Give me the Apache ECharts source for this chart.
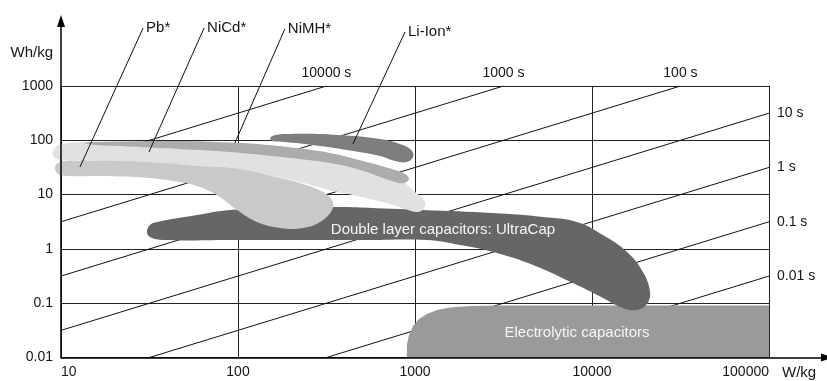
<!DOCTYPE html>
<html>
<head>
<meta charset="utf-8">
<script src="https://cdn.jsdelivr.net/npm/echarts@6/dist/echarts.min.js"></script>
<style>
html,body{margin:0;padding:0;background:#fff;}
#chart{width:827px;height:381px;}
</style>
</head>
<body>
<div id="chart"></div>
<script>
// Ragone plot: specific energy (Wh/kg) against specific power (W/kg)

const xTickLabels = ['10', '100', '1000', '10000', '100000'];
const yTickLabels = ['0.01', '0.1', '1', '10', '100', '1000'];

// Constant discharge-time lines, start and end points as [W/kg, Wh/kg]
const timeLabels = ['10000 s', '1000 s', '100 s', '10 s', '1 s', '0.1 s', '0.01 s', ''];
const timeStart = [[10, 31.6], [10, 3.16], [10, 0.316], [10, 0.0316], [31.6, 0.01], [316, 0.01], [3160, 0.01], [31600, 0.01]];
const timeEnd = [[316, 1000], [3160, 1000], [31600, 1000], [100000, 316], [100000, 31.6], [100000, 3.16], [100000, 0.316], [100000, 0.0316]];

// Technology regions, outline points as [W/kg, Wh/kg]
const electrolyticOutline = [[900, 0.01], [900, 0.017], [925, 0.026], [975, 0.038], [1053, 0.051], [1169, 0.063], [1331, 0.075], [1577, 0.083], [2046, 0.089], [3020, 0.091], [100000, 0.091], [100000, 0.01]];
const ultraCapOutline = [[30.6, 2.05], [31.8, 2.75], [34.9, 3.13], [58.7, 4.21], [90, 5.2], [173, 5.66], [362, 5.91], [489, 5.8], [1109, 5.2], [2760, 4.58], [5290, 3.87], [8230, 3.13], [11530, 1.8], [15780, 0.877], [19410, 0.376], [21280, 0.161], [20460, 0.097], [17950, 0.075], [14960, 0.0816], [11530, 0.125], [8230, 0.216], [4645, 0.505], [2760, 0.877], [1795, 1.18], [1169, 1.46], [508, 1.46], [224, 1.46], [90, 1.46], [37.7, 1.46], [31.8, 1.66]];
const niCdOutline = [[9.0, 60.9], [9.5, 78.5], [10.5, 87.3], [14.6, 93], [31.8, 91], [90, 75.3], [197, 58.4], [470, 36.6], [822, 18.6], [1000, 11.2], [1125, 7.96], [1138, 5.91], [1040, 4.78], [879, 5.43], [722, 6.71], [470, 9.4], [344, 11.6], [224, 17.1], [117, 26.1], [61, 33.7], [31.8, 38.2], [16.6, 41.6], [9.9, 43.4], [9.13, 49.3]];
const pbOutline = [[9.25, 30.9], [9.9, 39.8], [12.8, 41.6], [21.5, 41.6], [37.7, 38.2], [61, 33.7], [102.6, 29.6], [173, 20.2], [233, 15.7], [302, 11.2], [340, 7.96], [340, 5.2], [291, 3.13], [233, 2.43], [173, 2.43], [128, 3.13], [98.7, 5.2], [76, 9.8], [58.7, 14.4], [50.2, 16.4], [31.8, 20.2], [16.6, 22.0], [9.9, 23.0]];
const niMHOutline = [[13.7, 89.2], [21.5, 95], [47, 97], [90, 91], [138, 83.7], [215, 72.2], [331, 58.4], [508, 41.6], [771, 28.4], [879, 23.9], [925, 19.4], [867, 16.4], [771, 17.1], [470, 29.6], [331, 38.2], [197, 47.2], [90, 60.9], [47, 69.2], [24.5, 76.9], [15.6, 81.9]];
const liIonOutline = [[152, 110], [162, 125], [197, 130.6], [331, 128], [634, 106], [855, 81.9], [962, 63.5], [975, 49.3], [901, 39.8], [771, 41.6], [634, 51.4], [413, 66.3], [265, 81.9], [184, 93], [156, 97]];

// Battery name call-outs: leader from inside the region to the label
const batteryNames = ['Pb*', 'NiCd*', 'NiMH*', 'Li-Ion*'];
const pointerFrom = [[12.8, 32.2], [31.4, 60.9], [96, 89.2], [446, 85.5]];
const pointerTo = [[29.1, 11700], [64.3, 11700], [184, 11220], [878, 9875]];

const X_MIN = 10, X_MAX = 100000, Y_MIN = 0.01, Y_MAX = 1000;
const NUM_FONT = "'Liberation Sans Narrow', 'Liberation Sans', Arial, sans-serif";
const TEXT_FONT = "'Liberation Sans', Arial, sans-serif";
const INK = '#141414';

function regionSeries(outline, color, z, smooth, label, labelAt) {
  return {
    type: 'custom',
    coordinateSystem: 'cartesian2d',
    xAxisIndex: 0,
    yAxisIndex: 0,
    data: outline,
    encode: { x: 0, y: 1 },
    clip: false,
    silent: true,
    z: z,
    renderItem: function (params, api) {
      if (params.dataIndex !== 0) return null;
      const pts = outline.map(function (p) { return api.coord(p); });
      const children = [{
        type: 'polygon',
        shape: { points: pts, smooth: smooth },
        style: { fill: color, stroke: null }
      }];
      if (label) {
        const c = api.coord(labelAt);
        children.push({
          type: 'text', x: c[0], y: c[1],
          style: { text: label, fill: '#f6f6f6', fontSize: 15, fontFamily: TEXT_FONT, align: 'center', verticalAlign: 'middle' }
        });
      }
      return { type: 'group', children: children };
    }
  };
}

const timeSeries = timeLabels.map(function (t, i) {
  const atTop = timeEnd[i][1] >= Y_MAX;
  return {
    type: 'line',
    xAxisIndex: 0, yAxisIndex: 0,
    data: [timeStart[i], {
      value: timeEnd[i],
      label: {
        show: t !== '', formatter: t,
        position: atTop ? 'top' : 'right',
        distance: atTop ? 6 : 8
      }
    }],
    symbol: 'circle', symbolSize: 0, showSymbol: true,
    lineStyle: { color: '#111', width: 1 },
    label: { fontSize: 14, fontFamily: NUM_FONT, color: INK },
    silent: true, z: 1
  };
});

const pointerSeries = batteryNames.map(function (n, i) {
  return {
    type: 'line',
    xAxisIndex: 0, yAxisIndex: 0,
    clip: false,
    data: [pointerFrom[i], {
      value: pointerTo[i],
      label: { show: true, formatter: n, position: 'right', distance: 3 }
    }],
    symbol: 'circle', symbolSize: 0, showSymbol: true,
    lineStyle: { color: '#111', width: 1 },
    label: { fontSize: 15, fontFamily: TEXT_FONT, color: INK },
    silent: true, z: 5
  };
});

function decadeLabel(list, min) {
  return function (v) {
    const k = Math.round(Math.log10(v)) - Math.round(Math.log10(min));
    return list[k] !== undefined ? list[k] : '';
  };
}

const chart = echarts.init(document.getElementById('chart'), null, { renderer: 'canvas' });
chart.setOption({
  animation: false,
  backgroundColor: '#ffffff',
  grid: [
    { left: 61, right: 58, top: 86, bottom: 23.5 },
    { left: 61, width: 768, top: 21, bottom: 23.5 }
  ],
  xAxis: [
    {
      gridIndex: 0, type: 'log', logBase: 10, min: X_MIN, max: X_MAX,
      axisLine: { show: false }, axisTick: { show: false },
      splitLine: { show: true, lineStyle: { color: '#222', width: 1 } },
      axisLabel: {
        formatter: decadeLabel(xTickLabels, X_MIN), margin: 8,
        fontSize: 14, fontFamily: NUM_FONT, color: INK,
        alignMinLabel: 'left', alignMaxLabel: 'right'
      },
      name: 'W/kg', nameLocation: 'end', nameGap: 13,
      nameTextStyle: { fontSize: 15, fontFamily: TEXT_FONT, color: INK, align: 'left', verticalAlign: 'top', padding: [8, 0, 0, 0] }
    },
    {
      gridIndex: 1, type: 'value', min: 0, max: 1, z: 10,
      axisLine: { show: true, symbol: ['none', 'triangle'], symbolSize: [8, 12], lineStyle: { color: '#000', width: 1.5 } },
      axisTick: { show: false }, axisLabel: { show: false }, splitLine: { show: false }
    }
  ],
  yAxis: [
    {
      gridIndex: 0, type: 'log', logBase: 10, min: Y_MIN, max: Y_MAX,
      axisLine: { show: false }, axisTick: { show: false },
      splitLine: { show: true, lineStyle: { color: '#222', width: 1 } },
      axisLabel: { formatter: decadeLabel(yTickLabels, Y_MIN), margin: 8, fontSize: 14, fontFamily: NUM_FONT, color: INK },
      name: 'Wh/kg', nameLocation: 'end', nameGap: 33,
      nameTextStyle: { fontSize: 15, fontFamily: TEXT_FONT, color: INK, align: 'right', verticalAlign: 'middle', padding: [0, 8, 0, 0] }
    },
    {
      gridIndex: 0, type: 'log', logBase: 10, min: Y_MIN, max: Y_MAX, position: 'right', z: 10,
      axisLine: { show: true, lineStyle: { color: '#222', width: 1 } },
      axisTick: { show: false }, axisLabel: { show: false }, splitLine: { show: false }
    },
    {
      gridIndex: 1, type: 'value', min: 0, max: 1, z: 10,
      axisLine: { show: true, symbol: ['none', 'triangle'], symbolSize: [8, 12], lineStyle: { color: '#000', width: 1.5 } },
      axisTick: { show: false }, axisLabel: { show: false }, splitLine: { show: false }
    }
  ],
  series: timeSeries.concat([
    regionSeries(electrolyticOutline, '#9a9a9a', 2, 0, 'Electrolytic capacitors', [8230, 0.0283]),
    regionSeries(ultraCapOutline, '#666666', 2, 0.4, 'Double layer capacitors: UltraCap', [1439, 2.23]),
    regionSeries(niCdOutline, '#e1e1e1', 3, 0.4),
    regionSeries(pbOutline, '#c9c9c9', 3, 0.4),
    regionSeries(niMHOutline, '#acacac', 3, 0.4),
    regionSeries(liIonOutline, '#7e7e7e', 3, 0.4)
  ]).concat(pointerSeries)
});
</script>
</body>
</html>
